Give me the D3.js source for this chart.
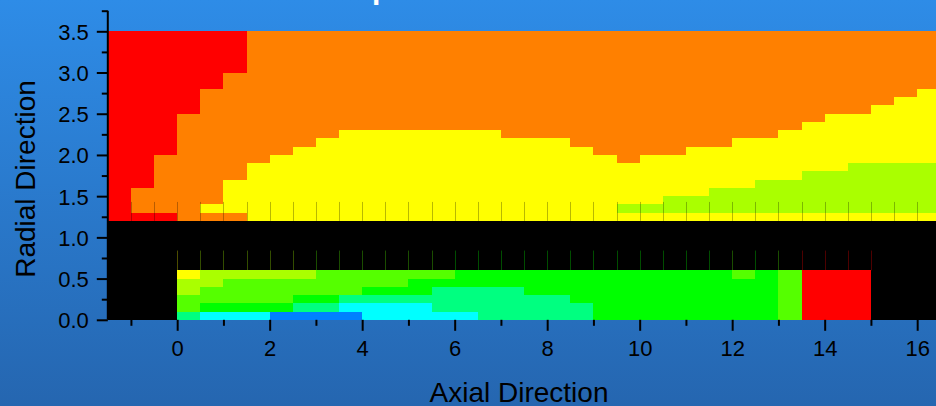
<!DOCTYPE html>
<html>
<head>
<meta charset="utf-8">
<script src="https://cdn.jsdelivr.net/npm/d3@7"></script>
<style>
  html, body { margin: 0; padding: 0; overflow: hidden; background: #2a78cc; }
  svg { display: block; }
</style>
</head>
<body>
<svg id="chart" width="936" height="406"></svg>
<script>
// Left edge of every column along the axial direction (columns are 0.5 wide)
const axialStarts = [-1.5, -1, -0.5, 0, 0.5, 1, 1.5, 2, 2.5, 3, 3.5, 4, 4.5, 5, 5.5, 6, 6.5, 7,
                     7.5, 8, 8.5, 9, 9.5, 10, 10.5, 11, 11.5, 12, 12.5, 13, 13.5, 14, 14.5, 15, 15.5, 16];
const cellWidth = 0.5;

// Top of every radial band (bands are 0.1 thick), outer wall first
const radialTops = [3.5, 3.4, 3.3, 3.2, 3.1, 3.0, 2.9, 2.8, 2.7, 2.6, 2.5, 2.4, 2.3, 2.2, 2.1, 2.0,
                    1.9, 1.8, 1.7, 1.6, 1.5, 1.4, 1.3, 1.2, 1.1, 1.0, 0.9, 0.8, 0.7, 0.6, 0.5, 0.4,
                    0.3, 0.2, 0.1];
const cellHeight = 0.1;

// Level of each cell, one run-length encoded row per radial band (same order as radialTops)
// R red, O orange, Y yellow, L lime, C chartreuse, G green, S spring, A aqua, B azure, K no data
const levelRows = [
  "6R 30O", "6R 30O", "6R 30O", "6R 30O", "6R 30O",
  "5R 31O", "5R 31O",
  "4R 31O 1Y", "4R 30O 2Y", "4R 29O 3Y",
  "3R 28O 5Y", "3R 27O 6Y",
  "3R 7O 7Y 12O 7Y",
  "3R 6O 11Y 7O 9Y",
  "3R 5O 13Y 4O 11Y",
  "2R 5O 15Y 1O 13Y",
  "2R 4O 26Y 4L",
  "2R 4O 24Y 6L",
  "2R 3O 23Y 8L",
  "1R 4O 21Y 10L",
  "1R 4O 19Y 12L",
  "1R 3O 18Y 14L",
  "3R 3O 30Y",
  "36K", "36K", "36K", "36K", "36K", "36K",
  "3K 1Y 5L 6C 12G 1C 1G 1C 3R 3K",
  "3K 2L 8C 16G 1C 3R 3K",
  "3K 1L 7C 3G 4S 11G 1C 3R 3K",
  "3K 5C 2G 10S 9G 1C 3R 3K",
  "3K 1C 4G 2S 4A 7S 8G 1C 3R 3K",
  "3K 1S 3A 4B 5A 5S 8G 1C 3R 3K"
];

const levelKeys   = ["R", "O", "Y", "L", "C", "G", "S", "A", "B", "K"];
const levelColors = ["#ff0000", "#ff8000", "#ffff00", "#aaff00", "#55ff00",
                     "#00ff00", "#00ff80", "#00ffff", "#0080ff", "#000000"];

const xMajorTicks = [0, 2, 4, 6, 8, 10, 12, 14, 16];
const xMinorTicks = [-1, 1, 3, 5, 7, 9, 11, 13, 15];
const yMajorTicks = [0, 0.5, 1, 1.5, 2, 2.5, 3, 3.5];
const yMinorTicks = [0.25, 0.75, 1.25, 1.75, 2.25, 2.75, 3.25, 3.75];

const xLabel = "Axial Direction";
const yLabel = "Radial Direction";
const titleText = "Temperature Distribution";

const W = 936, H = 406;
const FONT = "'Liberation Sans', Arial, Helvetica, sans-serif";

const svg = d3.select("#chart");

// Background gradient
const defs = svg.append("defs");
const grad = defs.append("linearGradient").attr("id", "bg")
  .attr("x1", 0).attr("y1", 0).attr("x2", 0).attr("y2", 1);
grad.append("stop").attr("offset", "0%").attr("stop-color", "#2e8ce7");
grad.append("stop").attr("offset", "100%").attr("stop-color", "#2566b0");
svg.append("rect").attr("width", W).attr("height", H).attr("fill", "url(#bg)");

// Scales
const x = d3.scaleLinear().domain([-1.5, 16.5]).range([107.8, 940.3]);
const y = d3.scaleLinear().domain([0, 3.75]).range([319.8, 10.7]);

// Decode the level rows into cells
const colorOf = d3.scaleOrdinal().domain(levelKeys).range(levelColors);
function decode(row) {
  const out = [];
  row.trim().split(/\s+/).forEach(tok => {
    const n = +tok.slice(0, -1), k = tok.slice(-1);
    for (let i = 0; i < n; i++) out.push(k);
  });
  return out;
}
const cells = [];
levelRows.forEach((row, r) => {
  decode(row).forEach((k, c) => {
    cells.push({ a: axialStarts[c], top: radialTops[r], key: k });
  });
});

const plot = svg.append("g");
plot.selectAll("rect.cell").data(cells).join("rect")
  .attr("class", "cell")
  .attr("x", d => x(d.a))
  .attr("y", d => y(d.top))
  .attr("width", d => x(d.a + cellWidth) - x(d.a) + 0.5)
  .attr("height", d => y(d.top - cellHeight) - y(d.top) + 0.5)
  .attr("fill", d => colorOf(d.key))
  .attr("shape-rendering", "crispEdges");

// Faint shading seams along column edges near the inner boundaries
const innerEdges = axialStarts.slice(1);
plot.selectAll("line.seam").data(innerEdges).join("line")
  .attr("class", "seam")
  .attr("x1", d => Math.round(x(d)) + 0.5).attr("x2", d => Math.round(x(d)) + 0.5)
  .attr("y1", y(1.43)).attr("y2", y(1.2))
  .attr("stroke", "#000").attr("stroke-opacity", 0.28).attr("stroke-width", 1);

const lowerTop = decode(levelRows[29]);
const glowEdges = axialStarts
  .map((a, c) => ({ a, k: lowerTop[c] !== "K" ? lowerTop[c] : (c > 0 ? lowerTop[c - 1] : "K") }))
  .filter(d => d.k !== "K" && d.a > -1.5);
plot.selectAll("line.glow").data(glowEdges).join("line")
  .attr("class", "glow")
  .attr("x1", d => Math.round(x(d.a)) + 0.5).attr("x2", d => Math.round(x(d.a)) + 0.5)
  .attr("y1", y(0.84)).attr("y2", y(0.6))
  .attr("stroke", d => colorOf(d.k)).attr("stroke-opacity", 0.3).attr("stroke-width", 1);

// Axes
const axisStyle = g => {
  g.selectAll("line").attr("stroke", "#000").attr("stroke-width", 2);
  g.selectAll("path.domain").attr("stroke", "#000").attr("stroke-width", 2);
  g.selectAll("text").attr("fill", "#000").attr("font-family", FONT).attr("font-size", 22);
};

const yMajor = svg.append("g").attr("transform", `translate(${x(-1.5)},0)`)
  .call(d3.axisLeft(y).tickValues(yMajorTicks).tickFormat(d3.format(".1f"))
    .tickSize(11).tickSizeOuter(0).tickPadding(8))
  .call(axisStyle);
yMajor.select("path.domain").attr("d", `M0,${y(0)}V${y(3.75)}`);
yMajor.selectAll("text").attr("dy", "0.36em");

svg.append("g").attr("transform", `translate(${x(-1.5)},0)`)
  .call(d3.axisLeft(y).tickValues(yMinorTicks).tickFormat("").tickSize(6).tickSizeOuter(0))
  .call(axisStyle)
  .call(g => g.select("path.domain").remove());

const xMajor = svg.append("g").attr("transform", `translate(0,${y(0)})`)
  .call(d3.axisBottom(x).tickValues(xMajorTicks).tickFormat(d3.format("d"))
    .tickSize(11).tickSizeOuter(0).tickPadding(10))
  .call(axisStyle)
  .call(g => g.select("path.domain").remove());

svg.append("g").attr("transform", `translate(0,${y(0)})`)
  .call(d3.axisBottom(x).tickValues(xMinorTicks).tickFormat("").tickSize(6).tickSizeOuter(0))
  .call(axisStyle)
  .call(g => g.select("path.domain").remove());

// Axis titles
svg.append("text")
  .attr("x", 519).attr("y", 402)
  .attr("text-anchor", "middle")
  .attr("font-family", FONT).attr("font-size", 28).attr("fill", "#000")
  .text(xLabel);

svg.append("text")
  .attr("transform", "translate(35,179) rotate(-90)")
  .attr("text-anchor", "middle")
  .attr("font-family", FONT).attr("font-size", 28).attr("fill", "#000")
  .text(yLabel);

// Chart title, sitting above the top edge of the view
const title = svg.append("text")
  .attr("y", -1.5)
  .attr("font-family", FONT).attr("font-size", 30).attr("font-weight", "bold")
  .attr("fill", "#fff")
  .text(titleText);
const lead = title.node().getSubStringLength(0, 3);
title.attr("x", 372 - lead);
</script>
</body>
</html>
